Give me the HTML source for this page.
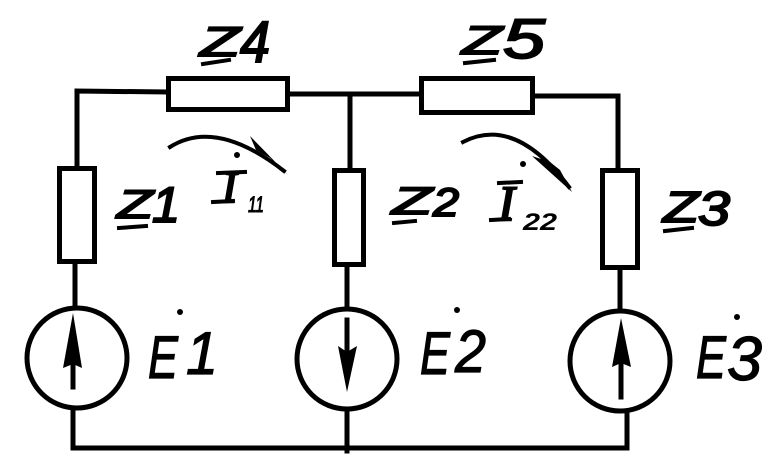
<!DOCTYPE html>
<html><head><meta charset="utf-8"><style>
html,body{margin:0;padding:0;background:#fff;}
svg{display:block;}
text{font-family:"Liberation Sans",sans-serif;font-style:italic;fill:#000;}
.n{font-weight:normal;stroke:#000;stroke-width:2;}
.e{font-weight:normal;stroke:#000;stroke-width:1.2;}
.b{font-weight:bold;}
.s{font-family:"Liberation Serif",serif;font-style:italic;font-weight:normal;stroke:#000;stroke-width:2;}
</style></head><body>
<svg width="782" height="468" viewBox="0 0 782 468" xmlns="http://www.w3.org/2000/svg">
<g stroke="#000" stroke-width="5" fill="none" stroke-linecap="square">
<!-- left branch -->
<polyline points="77,168 77,91 166,92"/>
<rect x="59.5" y="168.5" width="35" height="93"/>
<line x1="75" y1="264" x2="75" y2="306"/>
<circle cx="77" cy="358" r="50"/>
<polyline points="73,410 73,448 627,448 627,412"/>
<!-- top -->
<rect x="168.5" y="78.5" width="119" height="31"/>
<line x1="290" y1="94" x2="419" y2="94"/>
<rect x="421.5" y="78.5" width="111" height="34"/>
<polyline points="535,96 618,96 618,168"/>
<!-- middle branch -->
<line x1="350" y1="94" x2="350" y2="168"/>
<rect x="334.5" y="170.5" width="29" height="94"/>
<line x1="347" y1="267" x2="347" y2="308"/>
<circle cx="347" cy="359" r="50"/>
<line x1="347" y1="410" x2="347" y2="451"/>
<!-- right branch -->
<rect x="602.5" y="170.5" width="35" height="97"/>
<line x1="620" y1="270" x2="620" y2="310"/>
<circle cx="620" cy="361" r="50"/>
<!-- source arrows shafts -->
<line x1="73" y1="387" x2="73" y2="350"/>
<line x1="347" y1="320" x2="347" y2="360"/>
<line x1="621" y1="397" x2="621" y2="355"/>
<!-- loop current arcs -->
<path d="M170,147 Q216,118 284,171" stroke-width="4"/>
<path d="M463,142 Q515,115 569,187" stroke-width="4"/>
<!-- underlines -->
<line x1="203" y1="64" x2="229" y2="60" stroke-width="4"/>
<line x1="465" y1="63" x2="494" y2="60" stroke-width="4"/>
<line x1="119" y1="228" x2="146" y2="226" stroke-width="4"/>
<line x1="394" y1="223" x2="415" y2="221" stroke-width="4"/>
<line x1="665" y1="231" x2="692" y2="228" stroke-width="4"/>
<!-- serif bars of I -->
<line x1="218" y1="173" x2="245" y2="172" stroke-width="4"/>
<line x1="213" y1="202" x2="233" y2="201" stroke-width="4"/>
<line x1="499" y1="183" x2="521" y2="182" stroke-width="4"/>
<line x1="491" y1="220" x2="509" y2="219" stroke-width="4"/>
</g>
<g fill="#000">
<polygon points="73,313 63,368 73,364 82,368"/>
<polygon points="347,392 338,346 347,352 357,346"/>
<polygon points="621,318 612,367 621,363 631,367"/>
<polygon points="250,136 288,175 270,158 256,150"/>
<polygon points="532,156 572,192 560,170 550,162"/>
<circle cx="237" cy="155" r="3"/>
<circle cx="523" cy="164" r="3"/>
<circle cx="180" cy="312" r="3"/>
<circle cx="457" cy="310" r="3"/>
<circle cx="737" cy="317" r="3"/>
</g>
<!-- labels -->
<text class="n" x="200" y="56" font-size="42" textLength="40" lengthAdjust="spacingAndGlyphs">Z</text>
<text class="n" x="240" y="62" font-size="58" textLength="30" lengthAdjust="spacingAndGlyphs">4</text>
<text class="n" x="462" y="54" font-size="40" textLength="40" lengthAdjust="spacingAndGlyphs">Z</text>
<text class="n" x="503" y="58" font-size="56" textLength="42" lengthAdjust="spacingAndGlyphs">5</text>
<text class="n" x="117" y="218" font-size="40" textLength="36" lengthAdjust="spacingAndGlyphs">Z</text>
<text class="n" x="152" y="222" font-size="50" textLength="28" lengthAdjust="spacingAndGlyphs">1</text>
<text class="n" x="392" y="214" font-size="38" textLength="40" lengthAdjust="spacingAndGlyphs">Z</text>
<text class="n" x="433" y="216" font-size="40" textLength="26" lengthAdjust="spacingAndGlyphs">2</text>
<text class="n" x="663" y="222" font-size="44" textLength="36" lengthAdjust="spacingAndGlyphs">Z</text>
<text class="n" x="698" y="225" font-size="48" textLength="32" lengthAdjust="spacingAndGlyphs">3</text>
<text class="s" x="222" y="202" font-size="44">I</text>
<text class="n" x="248" y="212" font-size="22" textLength="16" lengthAdjust="spacingAndGlyphs" style="stroke-width:1">11</text>
<text class="s" x="498" y="220" font-size="50">I</text>
<text class="b" x="523" y="230" font-size="24" textLength="34" lengthAdjust="spacingAndGlyphs">22</text>
<text class="e" x="148" y="378" font-size="60" textLength="30" lengthAdjust="spacingAndGlyphs">E</text>
<text class="e" x="186" y="374" font-size="60" textLength="32" lengthAdjust="spacingAndGlyphs">1</text>
<text class="e" x="420" y="374" font-size="60" textLength="30" lengthAdjust="spacingAndGlyphs">E</text>
<text class="e" x="455" y="372" font-size="60" textLength="31" lengthAdjust="spacingAndGlyphs">2</text>
<text class="e" x="696" y="378" font-size="60" textLength="30" lengthAdjust="spacingAndGlyphs">E</text>
<text class="e" x="727" y="380" font-size="62" textLength="35" lengthAdjust="spacingAndGlyphs">3</text>
</svg>
</body></html>
